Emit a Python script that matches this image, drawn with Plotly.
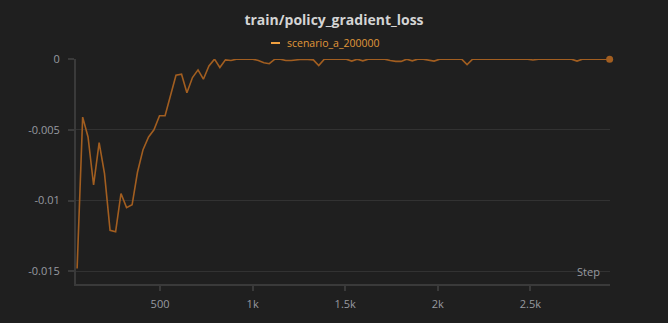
import plotly.graph_objects as go

title_text = "train/policy_gradient_loss"
series_name = "scenario_a_200000"

steps = [52, 82, 111, 141, 171, 200, 230, 260, 289, 319,
         349, 378, 408, 438, 467, 497, 527, 556, 586, 616,
         645, 675, 705, 734, 764, 794, 823, 853, 883, 912,
         942, 972, 1001, 1031, 1061, 1090, 1120, 1150, 1179, 1209,
         1239, 1268, 1298, 1328, 1357, 1387, 1417, 1446, 1476, 1506,
         1535, 1565, 1595, 1624, 1654, 1684, 1713, 1743, 1773, 1802,
         1832, 1862, 1891, 1921, 1951, 1980, 2010, 2040, 2069, 2099,
         2129, 2158, 2188, 2218, 2247, 2277, 2307, 2336, 2366, 2396,
         2425, 2455, 2485, 2514, 2544, 2574, 2603, 2633, 2663, 2692,
         2722, 2752, 2781, 2811, 2841, 2870, 2900, 2928]

loss = [-0.0148, -0.0041, -0.0055, -0.0089, -0.0059, -0.0081, -0.0121, -0.0122, -0.0095, -0.0105,
        -0.0103, -0.0080, -0.0064, -0.0055, -0.0050, -0.0040, -0.0040, -0.0026, -0.00114, -0.00107,
        -0.00237, -0.0013, -0.00076, -0.00142, -0.00048, 0.0, -0.00059, -0.00005, -0.0001, 0.0,
        0.0, -0.00005, 0.0, -0.0001, -0.00025, -0.00032, 0.0, 0.0, -0.0001, -0.0001,
        -0.00005, 0.0, -0.00002, -0.00005, -0.00045, 0.0, 0.0, 0.0, 0.0, 0.0,
        -0.00014, 0.0, -0.00012, 0.0, 0.0, 0.0, 0.0, -0.0001, -0.00016, -0.00016,
        0.0, -0.00012, 0.0, 0.0, -0.00005, -0.00014, 0.0, 0.0, 0.0, 0.0,
        0.0, -0.00038, 0.0, 0.0, 0.0, 0.0, 0.0, 0.0, 0.0, 0.0,
        0.0, 0.0, 0.0, -0.00006, 0.0, 0.0, 0.0, 0.0, 0.0, 0.0,
        0.0, -0.00014, 0.0, 0.0, 0.0, 0.0, 0.0, 0.0]

y_ticks = [0, -0.005, -0.01, -0.015]
y_tick_labels = ["0", "-0.005", "-0.01", "-0.015"]
x_ticks = [500, 1000, 1500, 2000, 2500]
x_tick_labels = ["500", "1k", "1.5k", "2k", "2.5k"]

BG = "#1f1f1f"
LINE = "#a25e20"
AXIS = "#3a3a3a"
GRID = "#323232"
TICKFONT = "#979aa0"
FONT = "Open Sans"

fig = go.Figure()
fig.add_trace(go.Scatter(
    x=steps, y=loss, mode="lines", name=series_name,
    line=dict(color=LINE, width=1.6), cliponaxis=False, showlegend=False))
fig.add_trace(go.Scatter(
    x=[steps[-1]], y=[loss[-1]], mode="markers",
    marker=dict(color=LINE, size=7, line=dict(width=0)), cliponaxis=False, showlegend=False))

fig.update_layout(
    width=668, height=323,
    margin=dict(l=76, r=58, t=59, b=39),
    paper_bgcolor=BG, plot_bgcolor=BG,
    font=dict(family=FONT, color=TICKFONT, size=11),
    title=dict(text="<b>" + title_text + "</b>", x=0.5, xanchor="center",
               y=1 - 20 / 323, yanchor="middle",
               font=dict(family=FONT, size=14, color="#d4d4d4")),
    xaxis=dict(range=[46, 2930], tickvals=x_ticks, ticktext=x_tick_labels,
               showgrid=False, zeroline=False, showline=True, linecolor=AXIS,
               linewidth=2, ticks="outside", ticklen=5, tickcolor=AXIS, tickwidth=1.5,
               tickfont=dict(size=11, color=TICKFONT), ticklabelstandoff=4),
    yaxis=dict(range=[-0.0159, 0.00001], tickvals=y_ticks, ticktext=y_tick_labels,
               showgrid=True, gridcolor=GRID, gridwidth=1, zeroline=False,
               showline=True, linecolor=AXIS, linewidth=2, ticks="outside",
               ticklen=6, tickcolor=AXIS, tickwidth=1.5,
               tickfont=dict(size=11, color=TICKFONT), ticklabelstandoff=6),
)

fig.add_annotation(text="Step", xref="paper", yref="paper", x=1.0, y=0.0,
                   xanchor="right", yanchor="bottom", yshift=3, xshift=-8, showarrow=False,
                   font=dict(family=FONT, size=11, color=TICKFONT))
fig.add_shape(type="line", xref="paper", yref="paper",
              x0=(271 - 76) / 534, x1=(280 - 76) / 534,
              y0=1 + (59 - 43) / 225, y1=1 + (59 - 43) / 225,
              line=dict(color="#f0a040", width=2))
fig.add_annotation(text=series_name, xref="paper", yref="paper",
                   x=(285 - 76) / 534, y=1 + (59 - 43) / 225,
                   xanchor="left", yanchor="middle", showarrow=False,
                   font=dict(family=FONT, size=10.5, color="#e0983a"))

fig.write_html("out.html")
